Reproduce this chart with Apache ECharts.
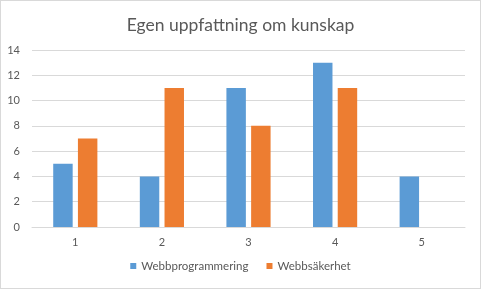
<!DOCTYPE html>
<html><head><meta charset="utf-8">
<script src="https://cdn.jsdelivr.net/npm/echarts@6/dist/echarts.min.js"></script>
<style>
html,body{margin:0;padding:0;background:#fff;}
#c{width:479px;height:287px;border:1px solid #d9d9d9;}
</style></head>
<body><div id="c"></div>
<script>
const categories = ['1','2','3','4','5'];
const webbprogrammering = [5,4,11,13,4];
const webbsakerhet = [7,11,8,11,0];
const seriesNames = ['Webbprogrammering','Webbsäkerhet'];
const titleText = 'Egen uppfattning om kunskap';

const chart = echarts.init(document.getElementById('c'), null, {renderer:'canvas'});
const font = 'Lato, "Open Sans", sans-serif';
chart.setOption({
  animation:false,
  title:{text:titleText,left:'center',top:10,textStyle:{fontFamily:font,fontSize:17.5,fontWeight:'normal',color:'#595959'}},
  legend:{data:seriesNames,bottom:11,left:'center',itemWidth:6,itemHeight:6,itemGap:18,icon:'rect',
    textStyle:{fontFamily:font,fontSize:11.5,color:'#595959'}},
  grid:{left:31,right:15,top:49,bottom:61,containLabel:false},
  xAxis:{type:'category',data:categories,
    axisLine:{lineStyle:{color:'#d9d9d9'}},axisTick:{show:false},
    axisLabel:{fontFamily:font,fontSize:11,color:'#595959',margin:10}},
  yAxis:{type:'value',min:0,max:14,interval:2,
    axisLine:{show:false},axisTick:{show:false},
    splitLine:{lineStyle:{color:'#d9d9d9'}},
    axisLabel:{fontFamily:font,fontSize:11,color:'#595959',margin:12}},
  series:[
    {name:seriesNames[0],type:'bar',data:webbprogrammering,itemStyle:{color:'#5B9BD5'},barGap:'27%',barCategoryGap:'49%'},
    {name:seriesNames[1],type:'bar',data:webbsakerhet,itemStyle:{color:'#ED7D31'},barGap:'27%',barCategoryGap:'49%'}
  ]
});
</script></body></html>
